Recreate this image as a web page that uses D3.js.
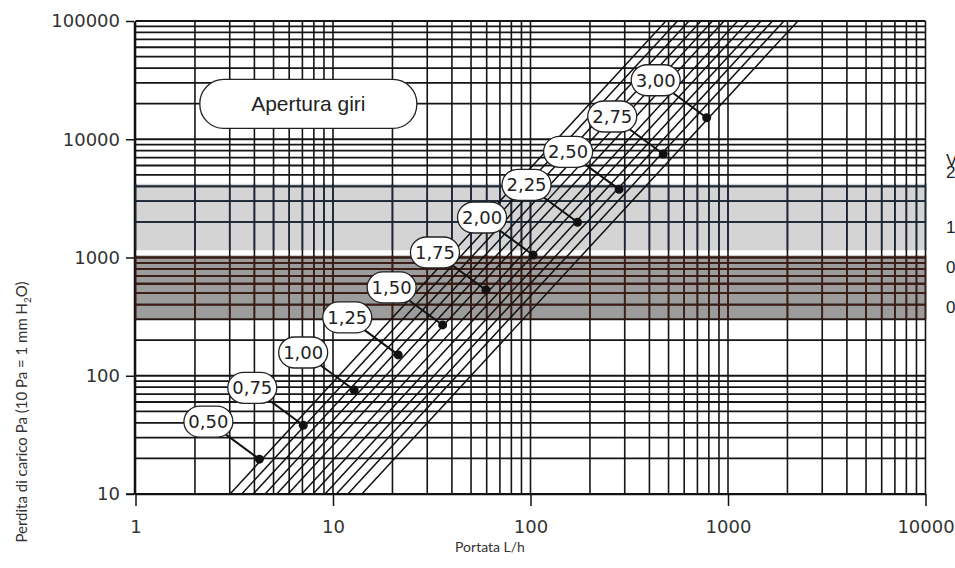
<!DOCTYPE html>
<html>
<head>
<meta charset="utf-8">
<script src="https://cdn.jsdelivr.net/npm/d3@7"></script>
<style>
  body { margin: 0; background: #fff; }
  svg { display: block; }
</style>
</head>
<body>
<svg id="chart" width="955" height="568"></svg>
<script>
// values
const flowDomain = [1, 10000]
const lossDomain = [10, 100000]
const flowTicks = [1, 10, 100, 1000, 10000]
const lossTicks = [10, 100, 1000, 10000, 100000]

// opening (turns) labels and the marked point on each curve
const openings = ['0,50', '0,75', '1,00', '1,25', '1,50', '1,75', '2,00', '2,25', '2,50', '2,75', '3,00']
const pointFlow = [4.24, 7.07, 12.8, 21.4, 35.9, 59.5, 103, 173, 281, 470, 780]
const pointLoss = [19.7, 38.1, 75.8, 150, 269, 531, 1050, 1985, 3770, 7500, 15200]

// hatched curves: flow where each one meets 10 Pa and 100000 Pa
const curveFlowLow = [3.01, 3.45, 3.94, 4.53, 5.19, 5.92, 6.94, 7.92, 9.11, 10.4, 11.9, 14.0]
const curveFlowHigh = [485, 555, 635, 730, 835, 955, 1120, 1275, 1470, 1680, 1920, 2260]

// shaded pressure bands
const bandLow = [1150, 300]
const bandHigh = [4200, 1040]

// cut-off legend on the right
const sideLabels = ['V (m/s)', '2,0', '1,5', '0,8', '0,5']
const sideLabelLoss = [5940, 4700, 1610, 740, 340]

const boxTitle = 'Apertura giri'
const boxAt = [7.5, 19900]

const svg = d3.select('#chart')

const x = d3.scaleLog().domain(flowDomain).range([135.5, 925.5])
const y = d3.scaleLog().domain(lossDomain).range([494, 21])

const bandFill = ['#d4d4d4', '#9c9c9c']
const bandGrid = ['#1c2838', '#3e1b12']

// bands
svg.append('g')
  .selectAll('rect')
  .data(bandLow)
  .join('rect')
  .attr('x', x(1))
  .attr('width', x(10000) - x(1))
  .attr('y', (d, i) => y(bandHigh[i]))
  .attr('height', (d, i) => y(d) - y(bandHigh[i]))
  .attr('fill', (d, i) => bandFill[i])

const defs = svg.append('defs')
bandLow.forEach((d, i) => {
  defs.append('clipPath')
    .attr('id', 'band' + i)
    .append('rect')
    .attr('x', 0)
    .attr('width', 955)
    .attr('y', y(bandHigh[i]))
    .attr('height', y(d) - y(bandHigh[i]))
})

function grid(g, color) {
  g.selectAll('.h')
    .data(y.ticks())
    .join('line')
    .attr('class', 'h')
    .attr('x1', x(1))
    .attr('x2', x(10000))
    .attr('y1', d => y(d))
    .attr('y2', d => y(d))
    .attr('stroke', color)
    .attr('stroke-width', 1.8)
  g.selectAll('.v')
    .data(x.ticks())
    .join('line')
    .attr('class', 'v')
    .attr('y1', y(10))
    .attr('y2', y(100000))
    .attr('x1', d => x(d))
    .attr('x2', d => x(d))
    .attr('stroke', color)
    .attr('stroke-width', 1.6)
}

grid(svg.append('g'), '#151515')
bandGrid.forEach((c, i) => grid(svg.append('g').attr('clip-path', `url(#band${i})`), c))

// hatched curves
svg.append('g')
  .selectAll('line')
  .data(curveFlowLow)
  .join('line')
  .attr('x1', d => x(d))
  .attr('y1', y(10))
  .attr('x2', (d, i) => x(curveFlowHigh[i]))
  .attr('y2', y(100000))
  .attr('stroke', '#111')
  .attr('stroke-width', 1.5)

// labelled points
const lab = svg.append('g')
  .selectAll('g')
  .data(openings)
  .join('g')
  .attr('transform', (d, i) => `translate(${x(pointFlow[i])},${y(pointLoss[i])})`)

lab.append('line')
  .attr('x1', 0).attr('y1', 0)
  .attr('x2', -51).attr('y2', -37.5)
  .attr('stroke', '#111')
  .attr('stroke-width', 2)
lab.append('circle').attr('r', 4.5).attr('fill', '#111')
lab.append('rect')
  .attr('x', -51 - 24.5).attr('y', -37.5 - 15.5)
  .attr('width', 49).attr('height', 31)
  .attr('rx', 16)
  .attr('fill', '#fff')
  .attr('stroke', '#222')
  .attr('stroke-width', 1.3)
lab.append('text')
  .attr('x', -51).attr('y', -37.5)
  .attr('dy', '0.36em')
  .attr('text-anchor', 'middle')
  .attr('font-family', 'DejaVu Sans')
  .attr('font-size', 18)
  .attr('fill', '#222')
  .text(d => d)

// title box
const tb = svg.append('g').attr('transform', `translate(${x(boxAt[0])},${y(boxAt[1])})`)
tb.append('rect')
  .attr('x', -108.5).attr('y', -24.5)
  .attr('width', 217).attr('height', 49)
  .attr('rx', 24)
  .attr('fill', '#fff')
  .attr('stroke', '#222')
  .attr('stroke-width', 1.3)
tb.append('text')
  .attr('dy', '0.36em')
  .attr('text-anchor', 'middle')
  .attr('font-family', 'Liberation Sans')
  .attr('font-size', 21)
  .attr('fill', '#222')
  .text(boxTitle)

// axes
const yAxis = d3.axisLeft(y)
  .tickValues(lossTicks)
  .tickFormat(d3.format('d'))
  .tickSize(8)
  .tickSizeOuter(0)
  .tickPadding(6)
const xAxis = d3.axisBottom(x)
  .tickValues(flowTicks)
  .tickFormat(d3.format('d'))
  .tickSize(12)
  .tickSizeOuter(0)
  .tickPadding(14)

const ya = svg.append('g').attr('transform', 'translate(134,0)').call(yAxis)
const xa = svg.append('g').attr('transform', 'translate(0,494)').call(xAxis)
;[ya, xa].forEach(a => {
  a.selectAll('path, line').attr('stroke', '#111').attr('stroke-width', 1.5)
  a.selectAll('text')
    .attr('font-family', 'DejaVu Sans')
    .attr('font-size', 18)
    .attr('fill', '#333')
})
xa.append('line').attr('x1', 126).attr('x2', x(1)).attr('stroke', '#111').attr('stroke-width', 1.5)

svg.append('text')
  .attr('x', 490).attr('y', 552)
  .attr('text-anchor', 'middle')
  .attr('font-family', 'Lato')
  .attr('font-size', 14)
  .attr('fill', '#333')
  .text('Portata L/h')

const yt = svg.append('text')
  .attr('transform', 'translate(27,412) rotate(-90)')
  .attr('text-anchor', 'middle')
  .attr('font-family', 'Lato')
  .attr('font-size', 15)
  .attr('fill', '#333')
yt.append('tspan').text('Perdita di carico Pa  (10 Pa = 1 mm H')
yt.append('tspan').attr('font-size', 10).attr('dy', 4).text('2')
yt.append('tspan').attr('dy', -4).text('O)')

// right legend, cut by the page edge as in the source
svg.append('g')
  .selectAll('text')
  .data(sideLabels)
  .join('text')
  .attr('x', 946)
  .attr('y', (d, i) => y(sideLabelLoss[i]))
  .attr('font-family', 'Liberation Sans')
  .attr('font-size', 17)
  .attr('fill', '#222')
  .text(d => d)
</script>
</body>
</html>
